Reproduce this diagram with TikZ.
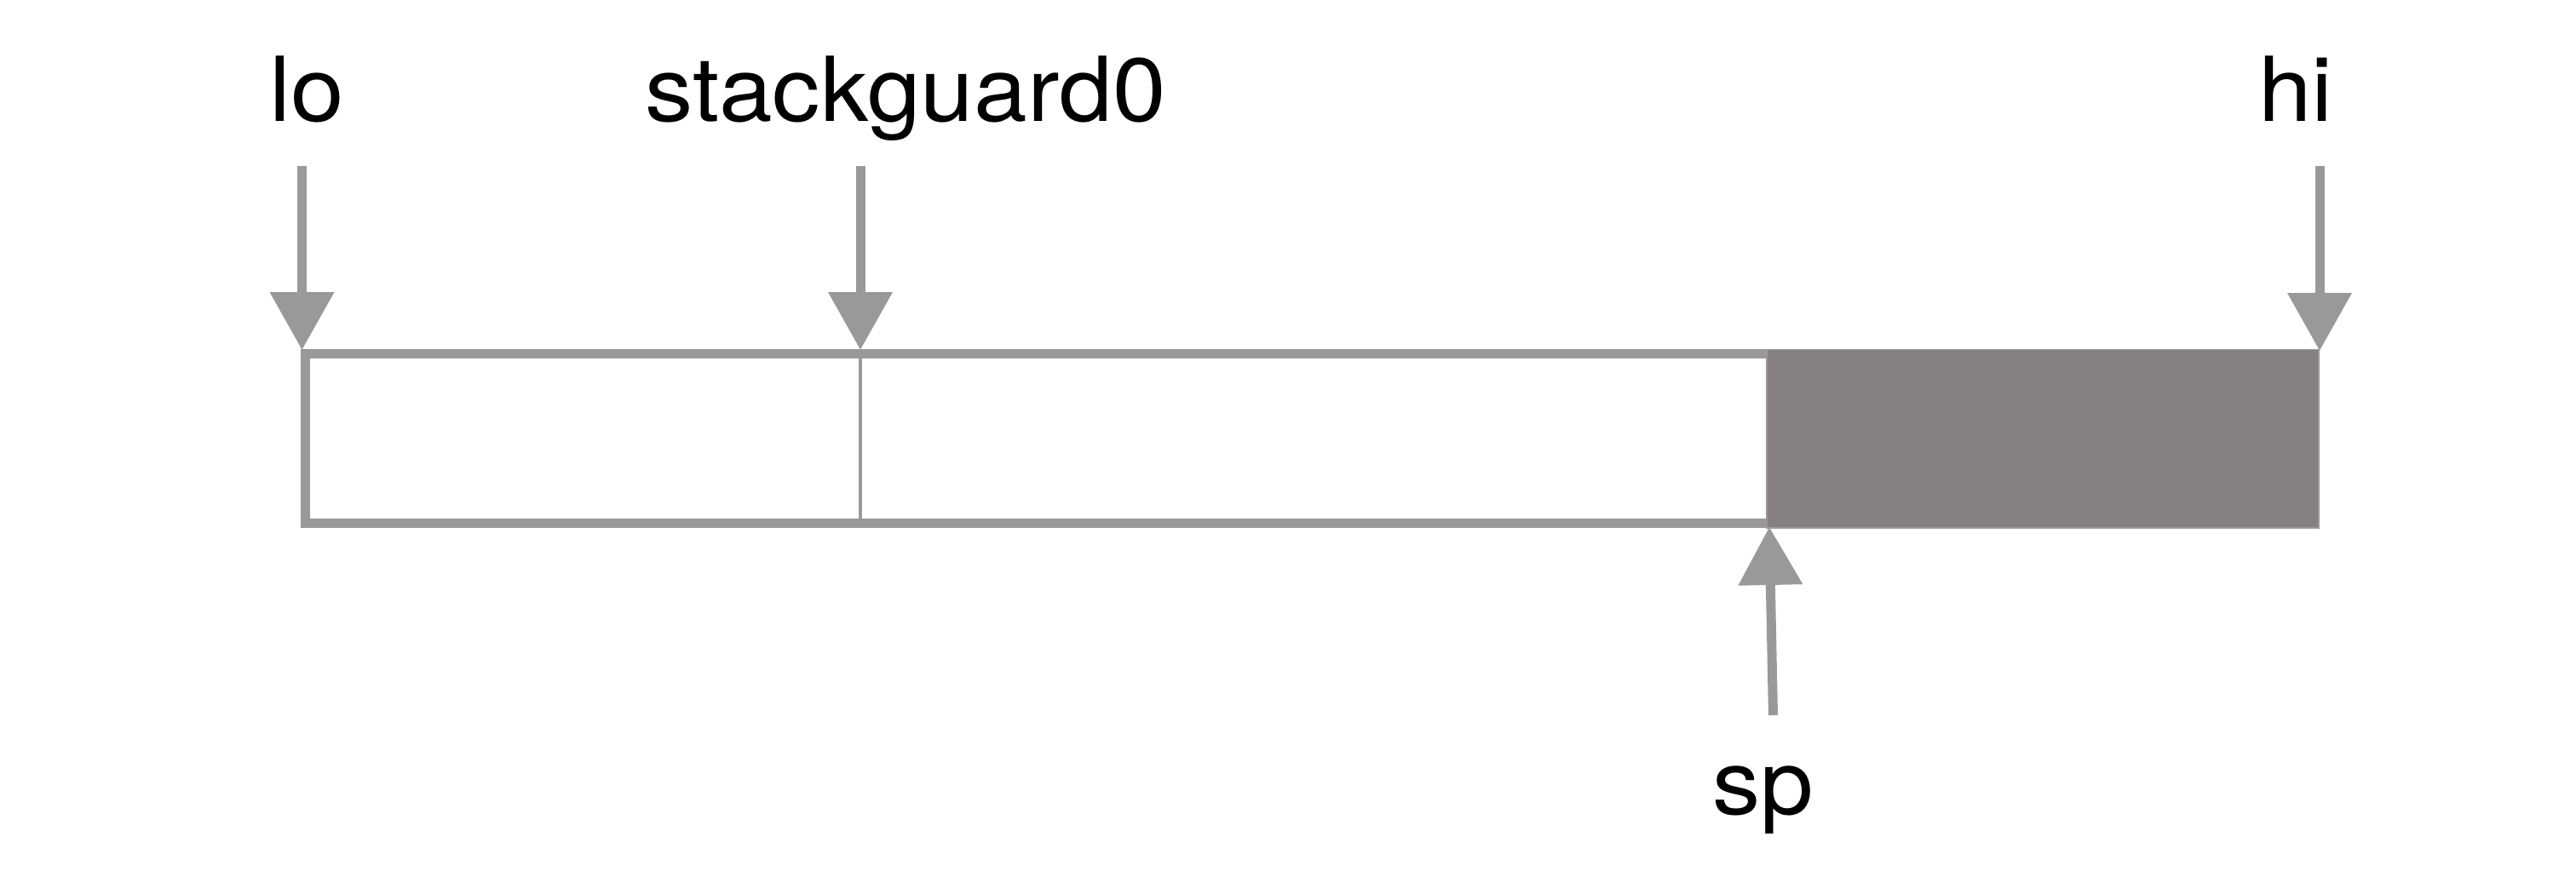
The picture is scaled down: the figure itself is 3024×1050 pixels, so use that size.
\documentclass[tikz,border=0pt]{standalone}
\usepackage{fontspec}
\setmainfont{TeX Gyre Heros}[FakeStretch=1.07]
\usetikzlibrary{arrows.meta}
\definecolor{linegray}{RGB}{153,153,153}
\definecolor{darkfill}{RGB}{134,129,128}
\tikzset{
  lbl/.style={anchor=base, inner sep=0pt, font=\fontsize{26.3}{30}\selectfont, text=black},
  ptr/.style={draw=linegray, line width=2.75pt, -{Triangle[length=17pt,width=18.25pt,fill=linegray]}},
  frame/.style={draw=linegray, line width=2.75pt},
  divider/.style={draw=linegray, line width=1pt},
  used/.style={fill=darkfill, draw=linegray, line width=0.4pt}
}
\begin{document}
\begin{tikzpicture}[x=0.25pt,y=-0.25pt]
\useasboundingbox (0,0) rectangle (3024,1050);
% labels
\node[lbl] (lo) at (360,142) {lo};
\node[lbl] (sg) at (1063,142) {stackguard0};
\node[lbl] (hi) at (2695,142) {hi};
\node[lbl] (sp) at (2070,956) {sp};
% box
\coordinate (bTL) at (358,415.5);
\coordinate (bBR) at (2716,614.5);
\draw[frame] (bTL) rectangle (bBR);
\coordinate (dTL) at (2074,410.5);
\coordinate (dBR) at (2722,620);
\path[used] (dTL) rectangle (dBR);
\coordinate (dvT) at (1010,421);
\coordinate (dvB) at (1010,609);
\draw[divider] (dvT) -- (dvB);
% arrows
\coordinate (loS) at (354.5,195);
\coordinate (loT) at (354.5,411);
\coordinate (sgS) at (1010,195);
\coordinate (sgT) at (1010,411);
\coordinate (hiS) at (2723,195);
\coordinate (hiT) at (2723,412);
\coordinate (spS) at (2081.5,840);
\coordinate (spT) at (2077,619);
\draw[ptr] (loS) -- (loT);
\draw[ptr] (sgS) -- (sgT);
\draw[ptr] (hiS) -- (hiT);
\draw[ptr] (spS) -- (spT);
\end{tikzpicture}
\end{document}
